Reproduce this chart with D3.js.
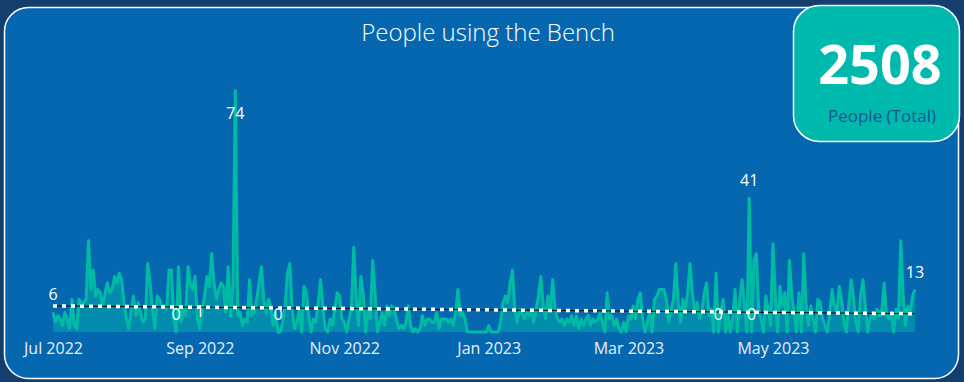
<!DOCTYPE html>
<html>
<head>
<meta charset="utf-8">
<script src="https://cdn.jsdelivr.net/npm/d3@7"></script>
<style>
  html, body { margin: 0; padding: 0; background: #143e6e; }
  svg { display: block; font-family: "Open Sans", "Noto Sans", sans-serif; }
</style>
</head>
<body>
<svg id="chart" width="964" height="382"></svg>
<script>
// daily people count, 1 Jul 2022 .. 30 Jun 2023
const julAug = [6,3,5,4,2,6,4,1,10,2, 1,10,9,9,10,28,13,19,11,13, 12,8,12,15,12,13,17,15,18,16,
  9,4,1,7,11,5,9,6,3,4, 21,15,7,1,11,10,8,8,7,19, 19,4,0,20,3,7,5,20,15,13, 17,4,1,7,11,17,14,24,15,10, 13,15];
const sepNov = [14,6,20,5,15,74,5,6,2,4, 3,16,5,6,10,15,20,10,6,10, 8,2,6,0,0,3,8,18,21,7,
  1,3,7,0,14,12,5,0,4,3, 9,16,7,1,0,4,2,7,12,11, 4,3,0,4,7,26,11,2,17,12, 0,7,4,22,12,0,3,6,2,8, 5,8,7,4];
const decJan = [1,2,1,3,8,2,0,1,0,1, 5,2,4,4,3,3,6,1,4,4, 4,3,4,2,6,13,5,6,4,0, 0,0,0,0,0,0,0,0,
  2,0,0,0,0,3,9,11,9,15, 19,7,3,7,6,4,6,5,7,3, 7,11,17,8,4,11,7,16,7,4, 3,4,2,4,3];
const febApr = [5,2,5,1,4,2,4,5,2,4, 3,4,6,3,0,12,4,5,2,4, 1,0,3,0,5,4,8,4,10,12,
  4,0,3,6,0,10,11,13,13,13, 10,3,7,10,21,9,3,10,7,12, 21,12,6,9,4,6,12,15,5,7, 0,18,0,6,10,0,6,0,4,13, 0,10,16];
const aprMay = [8,0,41,0,22,24,7,4,0,11, 7,2,27,12,0,14,8,12,0,22, 11,6,0,12,0,24,9,2,8,4, 0,10,9];
const mayJun = [4,2,0,6,13,8,6,14,10,3, 0,8,16,11,3,0,11,16,8,0, 4,6,4,7,5,7,15,5,4,6, 0,7,4,28,11,2,8,6,11,13];

const people = [].concat(julAug, sepNov, decJan, febApr, aprMay, mayJun);
const labelDays = [0, 52, 62, 77, 95, 281, 294, 295, 364];
const trendEnds = [8, 5.6];
const totalPeople = 2508;
const title = 'People using the Bench';
const cardLabel = 'People (Total)';

const startDay = new Date(2022, 6, 1);
const data = people.map((v, i) => ({ date: d3.timeDay.offset(startDay, i), value: v }));
const lastDate = data[data.length - 1].date;

const svg = d3.select('#chart');

// panel
svg.append('rect')
  .attr('x', 4.5).attr('y', 7.5).attr('width', 954).attr('height', 371)
  .attr('rx', 24)
  .attr('fill', '#0567b0')
  .attr('stroke', '#ffffff').attr('stroke-width', 1.5);

svg.append('text')
  .attr('x', 488).attr('y', 41)
  .attr('text-anchor', 'middle')
  .attr('fill', '#ffffff')
  .style('font-size', '24px')
  .style('font-weight', 300)
  .text(title);

const x = d3.scaleTime().domain([startDay, lastDate]).range([53, 915]);
const y = d3.scaleLinear().domain([0, 80]).range([332, 71]);

const area = d3.area()
  .x((d) => x(d.date))
  .y0(y(0))
  .y1((d) => y(d.value));

const line = d3.line()
  .x((d) => x(d.date))
  .y((d) => y(d.value));

svg.append('path')
  .datum(data)
  .attr('d', area)
  .attr('fill', '#01b8aa')
  .attr('fill-opacity', 0.45);

svg.append('path')
  .datum(data)
  .attr('d', line)
  .attr('fill', 'none')
  .attr('stroke', '#00bba4')
  .attr('stroke-width', 3)
  .attr('stroke-linejoin', 'round');

// trend line
const trend = svg.append('g');
[['#111111', 1, null], ['#ffffff', 3.5, '4,5']].forEach(([c, w, dash]) => {
  trend.append('line')
    .attr('x1', x(startDay)).attr('y1', y(trendEnds[0]))
    .attr('x2', x(lastDate)).attr('y2', y(trendEnds[1]))
    .attr('stroke', c).attr('stroke-width', w)
    .attr('stroke-dasharray', dash);
});

// data labels
svg.append('g')
  .selectAll('text')
  .data(labelDays.map((i) => data[i]))
  .join('text')
  .attr('x', (d) => x(d.date))
  .attr('y', (d) => Math.max(y(d.value) - 18, 113) + 6)
  .attr('text-anchor', 'middle')
  .attr('fill', '#ffffff')
  .style('font-size', '16px')
  .text((d) => d.value);

// x axis
const xAxis = svg.append('g')
  .attr('transform', 'translate(0,340)')
  .call(d3.axisBottom(x)
    .ticks(d3.timeMonth.every(2))
    .tickFormat(d3.timeFormat('%b %Y'))
    .tickSize(0));
xAxis.select('.domain').remove();
xAxis.selectAll('text')
  .attr('fill', '#e9eff7')
  .style('font-size', '16px')
  .style('font-family', '"Open Sans", "Noto Sans", sans-serif');

// total card
const card = svg.append('g');
card.append('rect')
  .attr('x', 793.5).attr('y', 5.5).attr('width', 166).attr('height', 136)
  .attr('rx', 26)
  .attr('fill', '#00b9ad')
  .attr('stroke', '#ffffff').attr('stroke-width', 1.5);
card.append('text')
  .attr('x', 880).attr('y', 84)
  .attr('text-anchor', 'middle')
  .attr('fill', '#ffffff')
  .style('font-size', '54px')
  .style('font-weight', 700)
  .text(d3.format('d')(totalPeople));
card.append('text')
  .attr('x', 882).attr('y', 122)
  .attr('text-anchor', 'middle')
  .attr('fill', '#1b5592')
  .style('font-size', '17px')
  .text(cardLabel);
</script>
</body>
</html>
